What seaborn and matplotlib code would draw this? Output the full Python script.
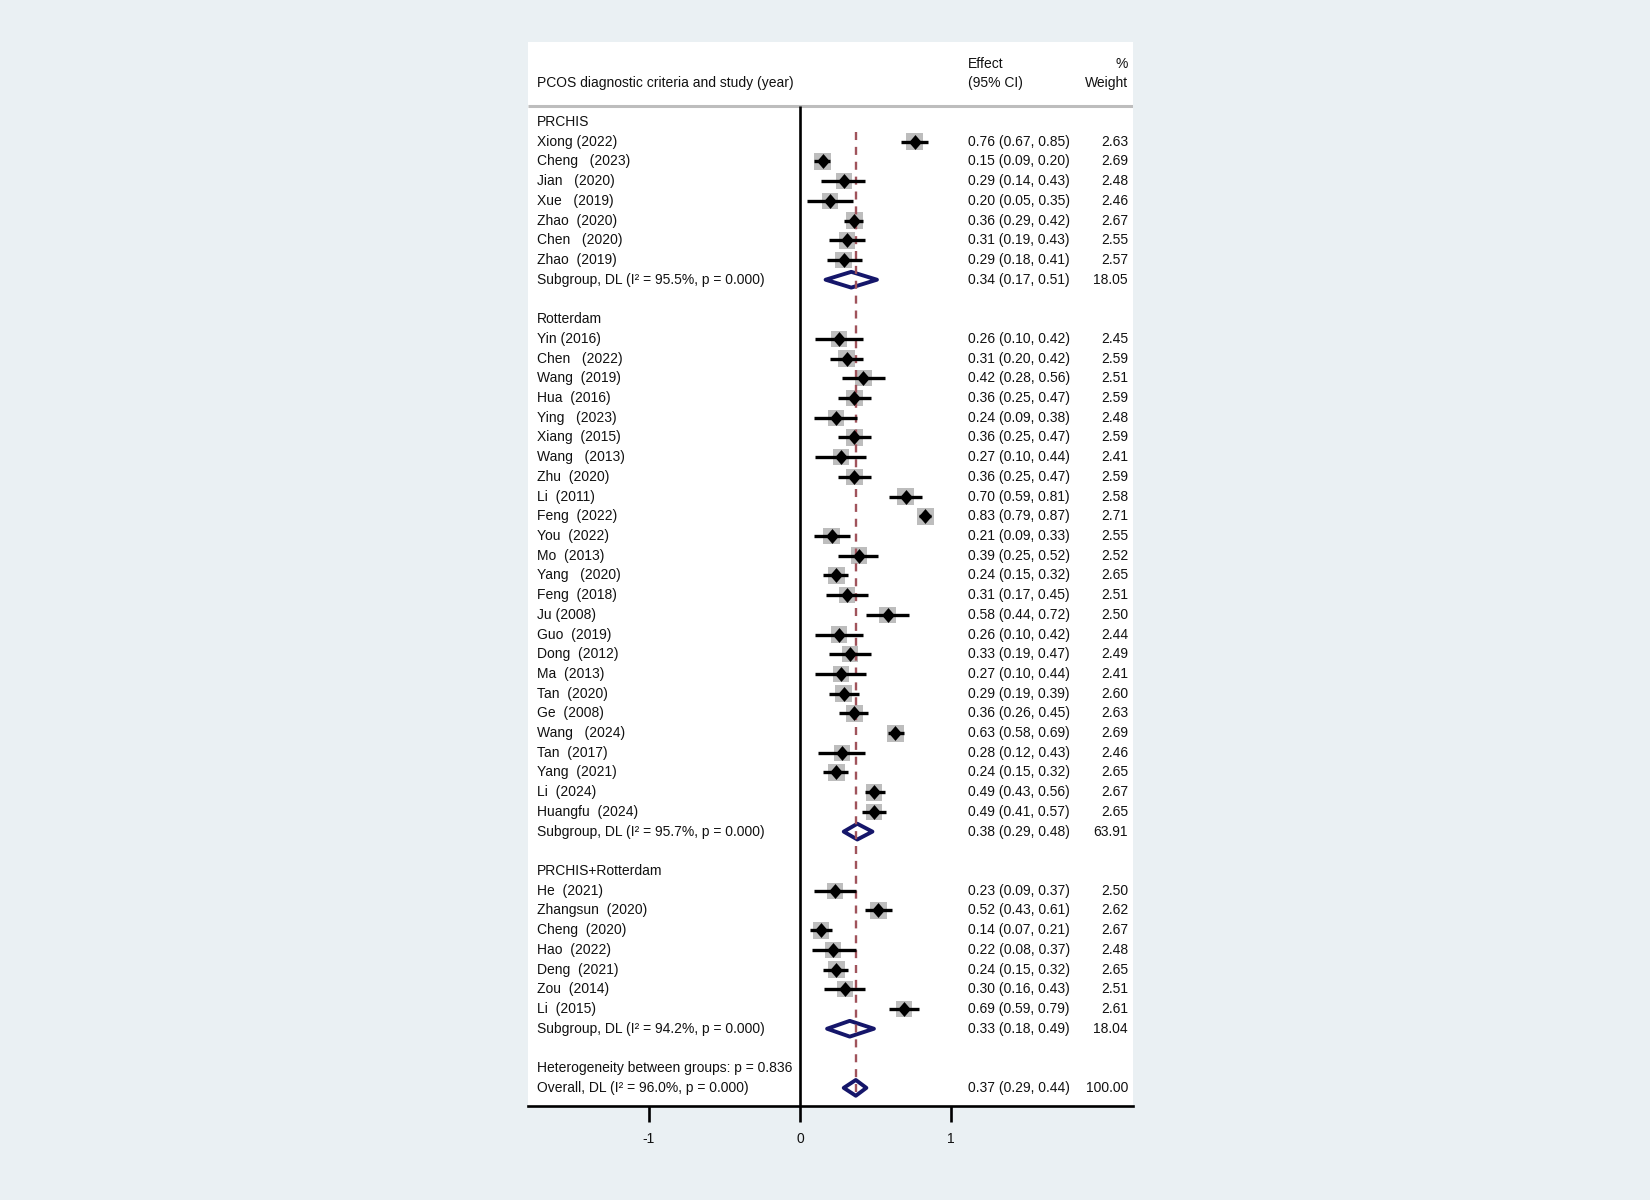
import numpy as np
import pandas as pd
import matplotlib
matplotlib.use("Agg")
import matplotlib.pyplot as plt
from matplotlib.patches import Polygon
import seaborn as sns

# ---- data ----
groups = ["PRCHIS", "Rotterdam", "PRCHIS+Rotterdam"]

study = [
    "Xiong (2022)", "Cheng   (2023)", "Jian   (2020)", "Xue   (2019)", "Zhao  (2020)",
    "Chen   (2020)", "Zhao  (2019)",
    "Yin (2016)", "Chen   (2022)", "Wang  (2019)", "Hua  (2016)", "Ying   (2023)",
    "Xiang  (2015)", "Wang   (2013)", "Zhu  (2020)", "Li  (2011)", "Feng  (2022)",
    "You  (2022)", "Mo  (2013)", "Yang   (2020)", "Feng  (2018)", "Ju (2008)",
    "Guo  (2019)", "Dong  (2012)", "Ma  (2013)", "Tan  (2020)", "Ge  (2008)",
    "Wang   (2024)", "Tan  (2017)", "Yang  (2021)", "Li  (2024)", "Huangfu  (2024)",
    "He  (2021)", "Zhangsun  (2020)", "Cheng  (2020)", "Hao  (2022)", "Deng  (2021)",
    "Zou  (2014)", "Li  (2015)",
]
group = ["PRCHIS"] * 7 + ["Rotterdam"] * 25 + ["PRCHIS+Rotterdam"] * 7

es = [0.76, 0.15, 0.29, 0.20, 0.36, 0.31, 0.29,
      0.26, 0.31, 0.42, 0.36, 0.24, 0.36, 0.27, 0.36, 0.70, 0.83, 0.21, 0.39,
      0.24, 0.31, 0.58, 0.26, 0.33, 0.27, 0.29, 0.36, 0.63, 0.28, 0.24, 0.49, 0.49,
      0.23, 0.52, 0.14, 0.22, 0.24, 0.30, 0.69]
lo = [0.67, 0.09, 0.14, 0.05, 0.29, 0.19, 0.18,
      0.10, 0.20, 0.28, 0.25, 0.09, 0.25, 0.10, 0.25, 0.59, 0.79, 0.09, 0.25,
      0.15, 0.17, 0.44, 0.10, 0.19, 0.10, 0.19, 0.26, 0.58, 0.12, 0.15, 0.43, 0.41,
      0.09, 0.43, 0.07, 0.08, 0.15, 0.16, 0.59]
hi = [0.85, 0.20, 0.43, 0.35, 0.42, 0.43, 0.41,
      0.42, 0.42, 0.56, 0.47, 0.38, 0.47, 0.44, 0.47, 0.81, 0.87, 0.33, 0.52,
      0.32, 0.45, 0.72, 0.42, 0.47, 0.44, 0.39, 0.45, 0.69, 0.43, 0.32, 0.56, 0.57,
      0.37, 0.61, 0.21, 0.37, 0.32, 0.43, 0.79]
weight = [2.63, 2.69, 2.48, 2.46, 2.67, 2.55, 2.57,
          2.45, 2.59, 2.51, 2.59, 2.48, 2.59, 2.41, 2.59, 2.58, 2.71, 2.55, 2.52,
          2.65, 2.51, 2.50, 2.44, 2.49, 2.41, 2.60, 2.63, 2.69, 2.46, 2.65, 2.67, 2.65,
          2.50, 2.62, 2.67, 2.48, 2.65, 2.51, 2.61]

sub_es = [0.34, 0.38, 0.33]
sub_lo = [0.17, 0.29, 0.18]
sub_hi = [0.51, 0.48, 0.49]
sub_w = [18.05, 63.91, 18.04]
sub_i2 = [95.5, 95.7, 94.2]
sub_p = [0.000, 0.000, 0.000]

het_p = 0.836
overall_es, overall_lo, overall_hi, overall_w = 0.37, 0.29, 0.44, 100.00
overall_i2, overall_p = 96.0, 0.000

# ---- build row layout ----
df = pd.DataFrame(dict(study=study, group=group, es=es, lo=lo, hi=hi, weight=weight))
rows, header_rows, sub_rows = [], [], []
r = 0
for g in groups:
    header_rows.append(r)
    r += 1
    n = (df["group"] == g).sum()
    rows += list(range(r, r + n))
    r += n
    sub_rows.append(r)
    r += 2
het_row = r
overall_row = r + 1
df["row"] = rows

sub = pd.DataFrame(dict(group=groups, es=sub_es, lo=sub_lo, hi=sub_hi, w=sub_w,
                        i2=sub_i2, p=sub_p, row=sub_rows))

# ---- style ----
bg = "#EAF0F3"
sns.set_theme(style="white")
plt.rcParams["font.family"] = ["Liberation Sans", "DejaVu Sans"]
plt.rcParams["axes.unicode_minus"] = False
fs = 10

fig = plt.figure(figsize=(16.5, 12), dpi=100, facecolor=bg)
ax = fig.add_axes([528 / 1650, 1 - 1106 / 1200, (1133 - 528) / 1650, (1106 - 42) / 1200])
ax.set_facecolor("white")
xmin, xmax = -1.80, 2.205
ymin, ymax = 49.92, -4.06
ax.set_xlim(xmin, xmax)
ax.set_ylim(ymin, ymax)

# header rule and zero line
ax.hlines(-0.8, xmin, xmax, color="#BDBDBD", lw=2.2, zorder=1)
ax.vlines(0, -0.8, ymin, color="black", lw=1.9, zorder=1)

# study boxes, CIs and point estimates
k = 55
sns.scatterplot(data=df, x="es", y="row", size="weight",
                sizes=(df.weight.min() * k, df.weight.max() * k),
                size_norm=(df.weight.min(), df.weight.max()),
                marker="s", color="#BDBDBD", linewidth=0, legend=False, ax=ax, zorder=2)
ax.hlines(df["row"], df["lo"], df["hi"], color="black", lw=2.4, zorder=4)
diamond = [(0, 1), (0.86, 0), (0, -1), (-0.86, 0)]
sns.scatterplot(data=df, x="es", y="row", marker=diamond, s=115, color="black",
                linewidth=0, legend=False, ax=ax, zorder=5)

# pooled diamonds
navy = "#15166A"
h = 0.4
for _, s in sub.iterrows():
    ax.add_patch(Polygon([(s.lo, s.row), (s.es, s.row - h), (s.hi, s.row), (s.es, s.row + h)],
                         closed=True, facecolor="white", edgecolor=navy, lw=2.8,
                         joinstyle="round", zorder=2))
ax.add_patch(Polygon([(overall_lo, overall_row), (overall_es, overall_row - h),
                      (overall_hi, overall_row), (overall_es, overall_row + h)],
                     closed=True, facecolor="white", edgecolor=navy, lw=2.8,
                     joinstyle="round", zorder=2))

# overall effect reference line
ax.vlines(overall_es, 0.5, overall_row + 0.5, color="#A0535B", lw=1.7,
          linestyles=(0, (3.4, 2.9)), zorder=3)

# ---- text columns ----
x_lab, x_eff, x_w = -1.742, 1.113, 2.172
tc = "#111111"
ax.text(x_lab, -1.98, "PCOS diagnostic criteria and study (year)", fontsize=fs, va="center", color=tc)
ax.text(x_eff, -2.95, "Effect", fontsize=fs, va="center", color=tc)
ax.text(x_eff, -1.98, "(95% CI)", fontsize=fs, va="center", color=tc)
ax.text(x_w, -2.95, "%", fontsize=fs, va="center", ha="right", color=tc)
ax.text(x_w, -1.98, "Weight", fontsize=fs, va="center", ha="right", color=tc)

for g, hr in zip(groups, header_rows):
    ax.text(x_lab, hr, g, fontsize=fs, va="center", color=tc)
for _, d in df.iterrows():
    ax.text(x_lab, d.row, d.study, fontsize=fs, va="center", color=tc)
    ax.text(x_eff, d.row, f"{d.es:.2f} ({d.lo:.2f}, {d.hi:.2f})", fontsize=fs, va="center", color=tc)
    ax.text(x_w, d.row, f"{d.weight:.2f}", fontsize=fs, va="center", ha="right", color=tc)
for _, s in sub.iterrows():
    ax.text(x_lab, s.row, f"Subgroup, DL (I\u00b2 = {s.i2:.1f}%, p = {s.p:.3f})",
            fontsize=fs, va="center", color=tc)
    ax.text(x_eff, s.row, f"{s.es:.2f} ({s.lo:.2f}, {s.hi:.2f})", fontsize=fs, va="center", color=tc)
    ax.text(x_w, s.row, f"{s.w:.2f}", fontsize=fs, va="center", ha="right", color=tc)

ax.text(x_lab, het_row, f"Heterogeneity between groups: p = {het_p:.3f}", fontsize=fs,
        va="center", color=tc)
ax.text(x_lab, overall_row, f"Overall, DL (I\u00b2 = {overall_i2:.1f}%, p = {overall_p:.3f})",
        fontsize=fs, va="center", color=tc)
ax.text(x_eff, overall_row, f"{overall_es:.2f} ({overall_lo:.2f}, {overall_hi:.2f})",
        fontsize=fs, va="center", color=tc)
ax.text(x_w, overall_row, f"{overall_w:.2f}", fontsize=fs, va="center", ha="right", color=tc)

# ---- axis ----
ax.set_xticks([-1, 0, 1])
ax.set_xticklabels(["-1", "0", "1"])
ax.set_yticks([])
ax.set_xlabel("")
ax.set_ylabel("")
ax.tick_params(axis="x", bottom=True, length=11.5, width=1.9, pad=7, labelsize=fs,
               direction="out", color="black", labelcolor=tc)
for side in ["top", "left", "right"]:
    ax.spines[side].set_visible(False)
ax.spines["bottom"].set_color("black")
ax.spines["bottom"].set_linewidth(1.9)

fig.savefig("out.png", dpi=100, facecolor=bg)
